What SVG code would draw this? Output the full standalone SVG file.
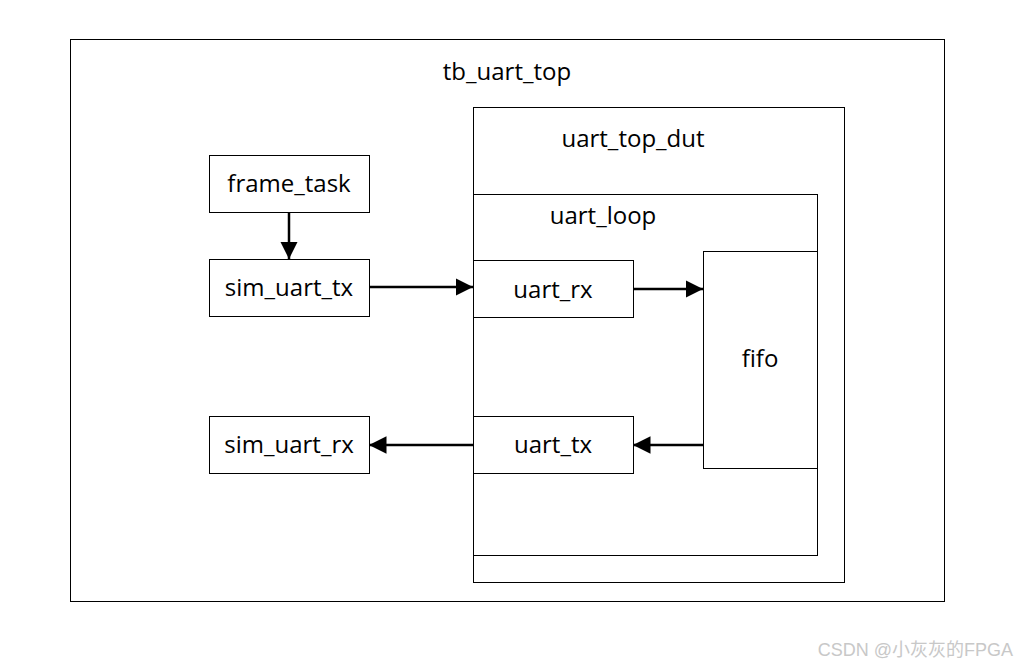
<svg xmlns="http://www.w3.org/2000/svg" width="1016" height="668" viewBox="0 0 1016 668">
<style>
.box{fill:#fff;stroke:#000;stroke-width:1}
.lbl{font-family:"Open Sans","Liberation Sans",sans-serif;font-size:24px;fill:#000;text-anchor:middle;dominant-baseline:central}
.con{stroke:#000;stroke-width:2.5;fill:none;marker-end:url(#ah)}
.wm{font-family:"Liberation Sans","Noto Sans CJK SC",sans-serif;font-size:18px;fill:#c8c8c8}
</style>
<defs>
<marker id="ah" viewBox="0 0 10 10" refX="10" refY="5" markerWidth="7" markerHeight="7" markerUnits="strokeWidth" orient="auto">
<path d="M0,0 L10,5 L0,10 z" fill="#000"/>
</marker>
</defs>
<rect width="1016" height="668" fill="#fff"/>
<g id="tb_uart_top"><rect class="box" x="70.5" y="39.5" width="874" height="562"/><text class="lbl" x="507" y="70">tb_uart_top</text></g>
<g id="uart_top_dut"><rect class="box" x="473.5" y="107.5" width="371" height="475"/><text class="lbl" x="633" y="137">uart_top_dut</text></g>
<g id="uart_loop"><rect class="box" x="473.5" y="194.5" width="344" height="361"/><text class="lbl" x="603" y="214">uart_loop</text></g>
<g id="frame_task"><rect class="box" x="209.5" y="155.5" width="160" height="57"/><text class="lbl" x="289" y="182">frame_task</text></g>
<g id="sim_uart_tx"><rect class="box" x="209.5" y="259.5" width="160" height="57"/><text class="lbl" x="289" y="286">sim_uart_tx</text></g>
<g id="sim_uart_rx"><rect class="box" x="209.5" y="416.5" width="160" height="57"/><text class="lbl" x="289" y="443">sim_uart_rx</text></g>
<g id="uart_rx"><rect class="box" x="473.5" y="260.5" width="160" height="57"/><text class="lbl" x="553" y="288">uart_rx</text></g>
<g id="uart_tx"><rect class="box" x="473.5" y="416.5" width="160" height="57"/><text class="lbl" x="553" y="443">uart_tx</text></g>
<g id="fifo"><rect class="box" x="703.5" y="251.5" width="114" height="217"/><text class="lbl" x="760" y="357">fifo</text></g>
<g id="connectors">
<line class="con" x1="289" y1="212" x2="289" y2="259"/>
<line class="con" x1="369" y1="287" x2="473" y2="287"/>
<line class="con" x1="633" y1="289" x2="703" y2="289"/>
<line class="con" x1="703" y1="445" x2="633" y2="445"/>
<line class="con" x1="473" y1="445" x2="369" y2="445"/>
</g>
<text class="wm" x="1013" y="656" text-anchor="end">CSDN @小灰灰的FPGA</text>
</svg>
